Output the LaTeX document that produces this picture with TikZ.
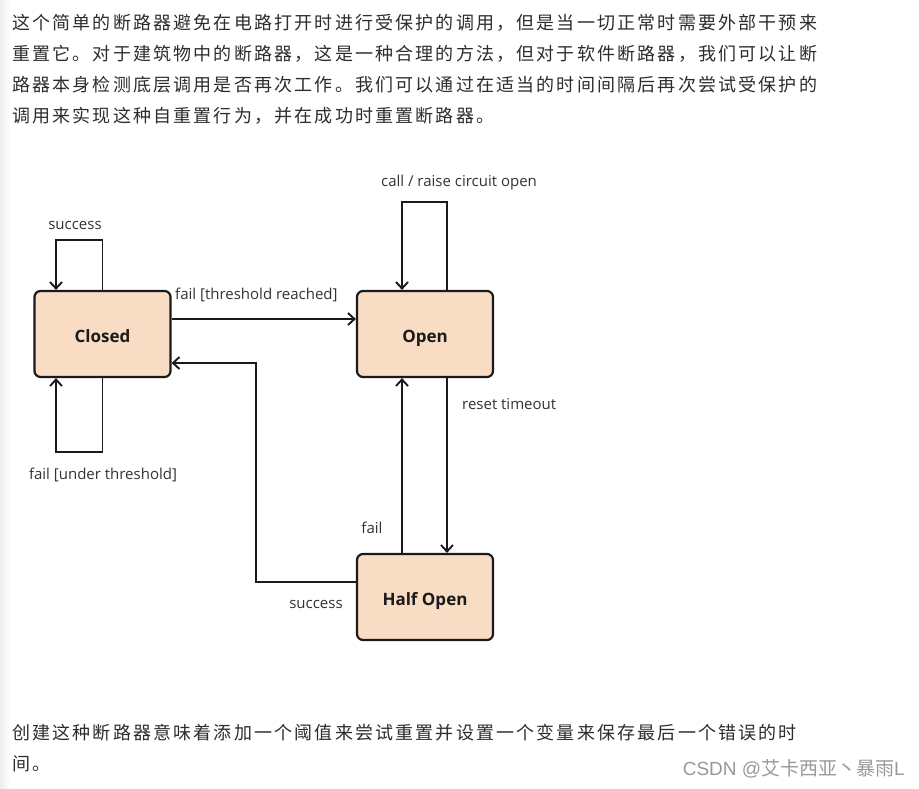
\documentclass[tikz,border=0pt]{standalone}
\usepackage{fontspec}
\setmainfont{Open Sans}
\newfontfamily\cjk[LetterSpace=12.1]{Noto Sans CJK SC}
\newfontfamily\cjkplain{Noto Sans CJK SC}
\usetikzlibrary{arrows.meta}
\definecolor{boxfill}{RGB}{249,220,196}
\definecolor{ink}{RGB}{26,26,26}
\definecolor{txt}{RGB}{45,45,45}
\tikzset{
  state/.style={draw=ink, line width=2.2pt, fill=boxfill, rounded corners=6pt,
    minimum width=136pt, minimum height=86pt, inner sep=0pt,
    text height=16pt, text depth=0pt,
    font=\bfseries\fontsize{17}{17}\selectfont, text=ink},
  conn/.style={draw=ink, line width=1.9pt, -{Straight Barb[length=6.5pt,width=12pt]}},
  lbl/.style={font=\fontsize{15}{15}\selectfont, text=black!80, inner sep=0pt},
  para/.style={anchor=west, inner sep=0pt, font=\cjk\fontsize{18}{18}\selectfont, text=txt}
}
\begin{document}
\begin{tikzpicture}[x=1pt,y=-1pt]
\useasboundingbox (0,0) rectangle (919,788);
\fill[white] (0,0) rectangle (919,788);
\shade[left color=black!7, right color=white] (0,0) rectangle (10,788);

% paragraph text
\node[para] (p1) at (12,23) {这个简单的断路器避免在电路打开时进行受保护的调用，但是当一切正常时需要外部干预来};
\node[para] (p2) at (12,54) {重置它。对于建筑物中的断路器，这是一种合理的方法，但对于软件断路器，我们可以让断};
\node[para] (p3) at (12,85) {路器本身检测底层调用是否再次工作。我们可以通过在适当的时间间隔后再次尝试受保护的};
\node[para] (p4) at (12,116) {调用来实现这种自重置行为，并在成功时重置断路器。};
\node[para] (b1) at (12,733) {创建这种断路器意味着添加一个阈值来尝试重置并设置一个变量来保存最后一个错误的时};
\node[para] (b2) at (12,764) {间。};
\node[anchor=east, inner sep=0pt, text=black!40, font=\fontsize{19}{19}\selectfont\fontspec{Liberation Sans}] (wm) at (905,769) {CSDN @{\cjkplain 艾卡西亚丶暴雨}L};

% states
\node[state] (closed) at (102.5,334) {Closed};
\node[state] (open) at (425,334) {Open};
\node[state] (half) at (425,597) {Half Open};

% closed self loops
\draw[conn] (closed.north) -- ++(0,-50) -| ([xshift=-46.5pt]closed.north);
\draw[conn] (closed.south) -- ++(0,74) -| ([xshift=-46.5pt]closed.south);
\node[lbl] (lsucc1) at (75,225) {success};
\node[lbl] (lfailu) at (103,475) {fail [under threshold]};

% closed -> open
\draw[conn] ([yshift=15pt]closed.east) -- ([yshift=15pt]open.west);
\node[lbl, anchor=west] (lfailt) at (175,295) {fail [threshold reached]};

% open self loop
\draw[conn] ([xshift=22pt]open.north) -- ++(0,-88) -| ([xshift=-23pt]open.north);
\node[lbl] (lcall) at (459,183) {call / raise circuit open};

% open -> half open
\draw[conn] ([xshift=22pt]open.south) -- ([xshift=22pt]half.north);
\node[lbl, anchor=west] (lreset) at (462,404) {reset timeout};

% half open -> open
\draw[conn] ([xshift=-23pt]half.north) -- ([xshift=-23pt]open.south);
\node[lbl] (lfail) at (372,528) {fail};

% half open -> closed
\draw[conn] ([yshift=15pt]half.west) -- ++(-100,0) |- ([yshift=-29pt]closed.east);
\node[lbl] (lsucc2) at (316,604) {success};
\end{tikzpicture}
\end{document}
